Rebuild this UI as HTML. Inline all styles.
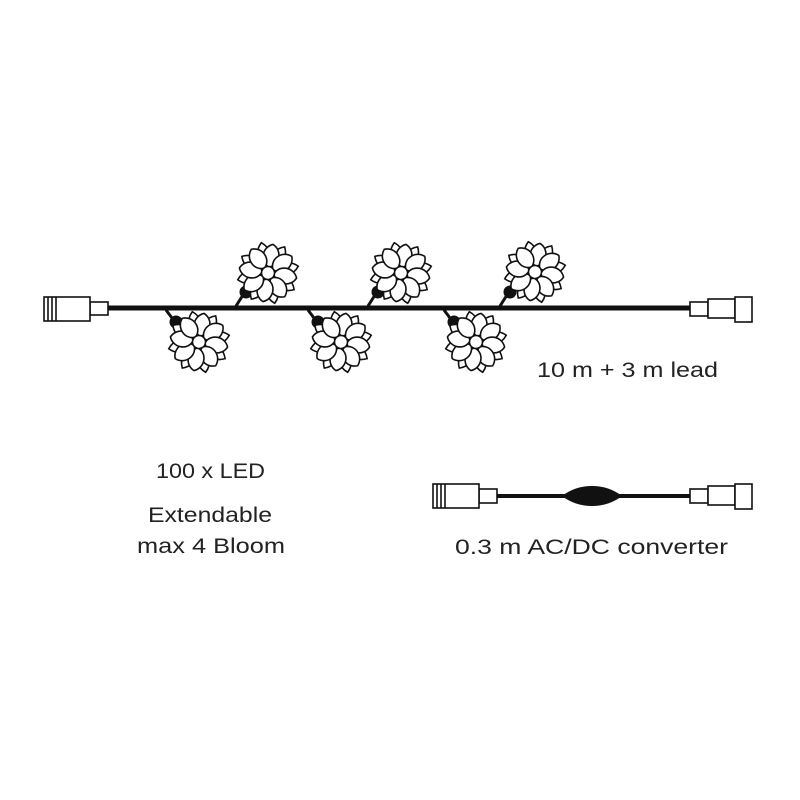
<!DOCTYPE html>
<html><head><style>body{margin:0;background:#fff}svg{display:block}text{font-family:"Liberation Sans",sans-serif;fill:#222}</style></head>
<body>
<svg width="800" height="800" viewBox="0 0 800 800">
<defs>
<path id="po" d="M0,-8 C8,-14 8,-24 0,-31 C-8,-24 -8,-14 0,-8Z"/>
<path id="pi" d="M0,-6 C11,-10 10,-25 0,-29 C-10,-25 -11,-10 0,-6Z"/>
<g id="fl" stroke="#111" stroke-width="1.6" fill="#fff" transform="rotate(10)">
<use href="#po" transform="rotate(22.5)"/><use href="#po" transform="rotate(67.5)"/>
<use href="#po" transform="rotate(112.5)"/><use href="#po" transform="rotate(157.5)"/>
<use href="#po" transform="rotate(202.5)"/><use href="#po" transform="rotate(247.5)"/>
<use href="#po" transform="rotate(292.5)"/><use href="#po" transform="rotate(337.5)"/>
<use href="#pi" transform="rotate(0)"/><use href="#pi" transform="rotate(45)"/>
<use href="#pi" transform="rotate(90)"/><use href="#pi" transform="rotate(135)"/>
<use href="#pi" transform="rotate(180)"/><use href="#pi" transform="rotate(225)"/>
<use href="#pi" transform="rotate(270)"/><use href="#pi" transform="rotate(315)"/>
<circle r="6.5"/>
</g>
</defs>
<line x1="105" y1="308" x2="692" y2="308" stroke="#111" stroke-width="5"/>
<g stroke="#111" stroke-width="3" fill="#111">
<line x1="236" y1="306" x2="243" y2="295"/><ellipse cx="246" cy="292" rx="5" ry="5"/>
<line x1="368" y1="306" x2="375" y2="295"/><ellipse cx="378" cy="292" rx="5" ry="5"/>
<line x1="500" y1="306" x2="507" y2="295"/><ellipse cx="510" cy="292" rx="5" ry="5"/>
<line x1="166" y1="310" x2="172" y2="318"/><ellipse cx="176" cy="322" rx="5" ry="5"/>
<line x1="308" y1="310" x2="314" y2="318"/><ellipse cx="318" cy="322" rx="5" ry="5"/>
<line x1="444" y1="310" x2="450" y2="318"/><ellipse cx="454" cy="322" rx="5" ry="5"/>
</g>
<g transform="translate(268,273)"><use href="#fl"/></g>
<g transform="translate(401,273)"><use href="#fl"/></g>
<g transform="translate(535,272)"><use href="#fl"/></g>
<g transform="translate(199,342)"><use href="#fl"/></g>
<g transform="translate(341,342)"><use href="#fl"/></g>
<g transform="translate(476,342)"><use href="#fl"/></g>
<g stroke="#111" stroke-width="1.6" fill="#fff">
<rect x="90" y="302" width="18" height="13"/>
<rect x="44" y="297" width="46" height="24"/>
<line x1="48" y1="297" x2="48" y2="321"/><line x1="52" y1="297" x2="52" y2="321"/><line x1="56" y1="297" x2="56" y2="321"/>
<rect x="690" y="302" width="18" height="14"/>
<rect x="708" y="299" width="27" height="19"/>
<rect x="735" y="297" width="17" height="25"/>
</g>
<line x1="497" y1="496" x2="692" y2="496" stroke="#111" stroke-width="4"/>
<path d="M562 496 Q575 486 592 486 Q609 486 622 496 Q609 506 592 506 Q575 506 562 496Z" fill="#111"/>
<g stroke="#111" stroke-width="1.6" fill="#fff">
<rect x="479" y="489" width="18" height="14"/>
<rect x="433" y="484" width="46" height="24"/>
<line x1="437" y1="484" x2="437" y2="508"/><line x1="441" y1="484" x2="441" y2="508"/><line x1="445" y1="484" x2="445" y2="508"/>
<rect x="690" y="489" width="18" height="14"/>
<rect x="708" y="486" width="27" height="19"/>
<rect x="735" y="484" width="17" height="25"/>
</g>
<text x="537" y="377" font-size="21" textLength="181" lengthAdjust="spacingAndGlyphs">10 m + 3 m lead</text>
<text x="156" y="478" font-size="21" textLength="109" lengthAdjust="spacingAndGlyphs">100 x LED</text>
<text x="148" y="522" font-size="21" textLength="124" lengthAdjust="spacingAndGlyphs">Extendable</text>
<text x="137" y="553" font-size="21" textLength="148" lengthAdjust="spacingAndGlyphs">max 4 Bloom</text>
<text x="455" y="554" font-size="21" textLength="273" lengthAdjust="spacingAndGlyphs">0.3 m AC/DC converter</text>
</svg>
</body></html>
